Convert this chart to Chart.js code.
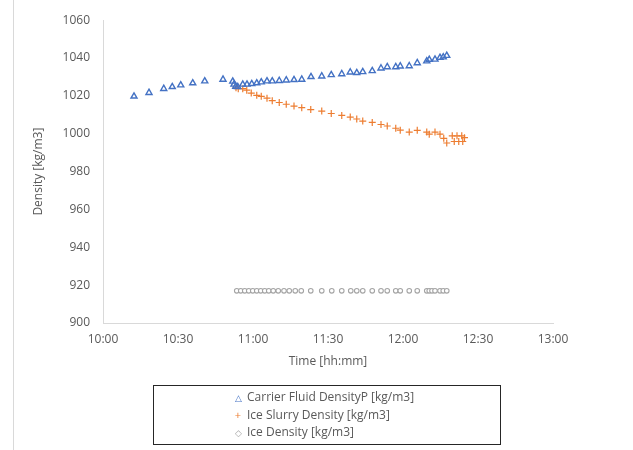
<!DOCTYPE html>
<html>
<head>
<meta charset="utf-8">
<script src="https://cdn.jsdelivr.net/npm/chart.js@4"></script>
<style>
  body { margin: 0; background: #fff; }
  #wrap { position: relative; width: 633px; height: 450px; font-family: 'Open Sans', sans-serif; }
  #edge { position: absolute; left: 13px; top: 0; width: 1px; height: 450px; background: #d9d9d9; }
  #legendBox { position: absolute; left: 153px; top: 385px; width: 348px; height: 60px; border: 1px solid #262626; box-sizing: border-box; padding: 2px 0 0 78px; }
  .row { font-size: 12px; color: #595959; height: 17.5px; line-height: 17.5px; white-space: nowrap; }
  .mk { display: inline-block; width: 12px; font-size: 9px; text-align: center; margin-right: 3px; }
</style>
</head>
<body>
<div id="wrap">
  <div id="edge"></div>
  <canvas id="densityChart" width="633" height="450"></canvas>
  <div id="legendBox">
    <div class="row"><span class="mk" style="color:#4472c4">&#9651;</span>Carrier Fluid DensityP [kg/m3]</div>
    <div class="row"><span class="mk" style="color:#ed7d31;font-size:11px">+</span>Ice Slurry Density [kg/m3]</div>
    <div class="row"><span class="mk" style="color:#a5a5a5">&#9671;</span>Ice Density [kg/m3]</div>
  </div>
</div>
<script>
// time values are minutes after 10:00
const carrierTime = [12.4, 18.4, 24.3, 27.7, 31.1, 35.9, 40.7, 48.0, 51.9, 52.4, 53.1, 53.9, 55.9, 57.6, 59.5, 61.5, 63.3, 65.6, 67.7, 70.5, 73.3, 76.4, 79.5, 83.2, 87.5, 91.3, 95.5, 98.9, 101.5, 103.9, 107.7, 111.2, 113.7, 117.1, 118.9, 122.5, 125.7, 129.5, 130.5, 132.8, 134.8, 136.1, 137.5];
const carrierDensity = [1019.8, 1021.7, 1023.8, 1024.8, 1025.7, 1026.8, 1027.8, 1028.7, 1027.7, 1026.1, 1025.0, 1024.8, 1026.1, 1026.1, 1026.4, 1026.8, 1027.3, 1027.8, 1027.8, 1028.0, 1028.3, 1028.5, 1028.7, 1030.1, 1030.4, 1031.1, 1031.6, 1032.5, 1032.2, 1032.7, 1033.2, 1034.6, 1035.3, 1035.3, 1035.7, 1035.8, 1037.4, 1038.4, 1039.2, 1039.3, 1040.2, 1040.5, 1041.3];

const slurryTime = [53.2, 54.1, 55.9, 57.5, 59.3, 61.5, 63.3, 65.6, 67.7, 70.5, 73.3, 76.4, 79.5, 83.1, 87.5, 91.3, 95.5, 98.9, 101.5, 103.9, 107.7, 111.2, 113.7, 117.1, 118.9, 122.5, 125.7, 129.5, 130.5, 132.8, 134.8, 136.3, 137.5, 139.7, 141.6, 143.5, 144.6, 140.5, 142.3, 143.9];
const slurryDensity = [1024.3, 1023.8, 1023.8, 1023.0, 1021.5, 1020.3, 1019.8, 1018.8, 1017.5, 1016.5, 1015.6, 1014.6, 1013.8, 1012.8, 1012.0, 1010.7, 1009.7, 1008.8, 1007.8, 1006.7, 1006.0, 1004.9, 1004.1, 1002.9, 1001.9, 1000.9, 1001.8, 1000.9, 999.8, 1000.9, 999.8, 997.6, 995.1, 998.9, 998.9, 998.9, 997.9, 995.9, 995.9, 995.9];

const iceTime = [53.5, 55.1, 56.7, 58.3, 59.9, 61.5, 63.1, 64.7, 66.3, 68.1, 70.1, 72.4, 74.5, 76.9, 79.3, 83.1, 87.5, 91.5, 95.5, 99.1, 101.5, 103.9, 107.7, 111.2, 113.7, 117.1, 118.9, 122.5, 125.7, 129.5, 130.5, 131.6, 132.8, 134.8, 136.1, 137.5];
const iceDensity = [917, 917, 917, 917, 917, 917, 917, 917, 917, 917, 917, 917, 917, 917, 917, 917, 917, 917, 917, 917, 917, 917, 917, 917, 917, 917, 917, 917, 917, 917, 917, 917, 917, 917, 917, 917];

const startMinutes = 600; // 10:00
const xTicks = [600, 630, 660, 690, 720, 750, 780];
const yTicks = [900, 920, 940, 960, 980, 1000, 1020, 1040, 1060];

function toPoints(times, values) {
    return times.map(function (t, i) { return { x: startMinutes + t, y: values[i] }; });
}

function hhmm(m) {
    const h = Math.floor(m / 60);
    const mm = Math.round(m % 60);
    return h + ':' + (mm < 10 ? '0' : '') + mm;
}

document.addEventListener('DOMContentLoaded', function () {
    const ctx = document.getElementById('densityChart').getContext('2d');
    const densityChart = new Chart(ctx, {
        type: 'scatter',
        data: {
            datasets: [{
                label: 'Carrier Fluid DensityP [kg/m3]',
                data: toPoints(carrierTime, carrierDensity),
                pointStyle: 'triangle',
                pointRadius: 3.5,
                borderColor: '#4472c4',
                backgroundColor: 'rgba(255,255,255,0)',
                borderWidth: 1.4
            }, {
                label: 'Ice Slurry Density [kg/m3]',
                data: toPoints(slurryTime, slurryDensity),
                pointStyle: 'cross',
                pointRadius: 3.5,
                borderColor: '#ed7d31',
                backgroundColor: '#ed7d31',
                borderWidth: 1.2
            }, {
                label: 'Ice Density [kg/m3]',
                data: toPoints(iceTime, iceDensity),
                pointStyle: 'circle',
                pointRadius: 2.3,
                borderColor: '#a5a5a5',
                backgroundColor: '#ffffff',
                borderWidth: 1.1
            }]
        },
        options: {
            responsive: false,
            animation: false,
            layout: {
                padding: { left: 14, top: 17, right: 80, bottom: 77 }
            },
            plugins: {
                legend: { display: false },
                tooltip: { enabled: false }
            },
            scales: {
                x: {
                    type: 'linear',
                    min: 600,
                    max: 780,
                    afterFit: function (scale) { scale.height = 50; },
                    afterBuildTicks: function (scale) {
                        scale.ticks = xTicks.map(function (v) { return { value: v }; });
                    },
                    grid: { display: false, drawTicks: false },
                    border: { display: true, color: '#d9d9d9', width: 1 },
                    ticks: {
                        padding: 9,
                        color: '#595959',
                        font: { family: 'Open Sans', size: 12 },
                        maxRotation: 0,
                        callback: function (value) { return hhmm(value); }
                    },
                    title: {
                        display: true,
                        text: 'Time [hh:mm]',
                        color: '#595959',
                        font: { family: 'Open Sans', size: 12 },
                        padding: 4
                    }
                },
                y: {
                    min: 900,
                    max: 1060,
                    afterFit: function (scale) { scale.width = 89; },
                    afterBuildTicks: function (scale) {
                        scale.ticks = yTicks.map(function (v) { return { value: v }; });
                    },
                    grid: { display: false, drawTicks: false },
                    border: { display: true, color: '#d9d9d9', width: 1 },
                    ticks: {
                        padding: 13,
                        color: '#595959',
                        font: { family: 'Open Sans', size: 12 },
                        callback: function (value) { return String(value); }
                    },
                    title: {
                        display: true,
                        text: 'Density [kg/m3]',
                        color: '#595959',
                        font: { family: 'Open Sans', size: 12 },
                        padding: 17
                    }
                }
            }
        }
    });
});
</script>
</body>
</html>
